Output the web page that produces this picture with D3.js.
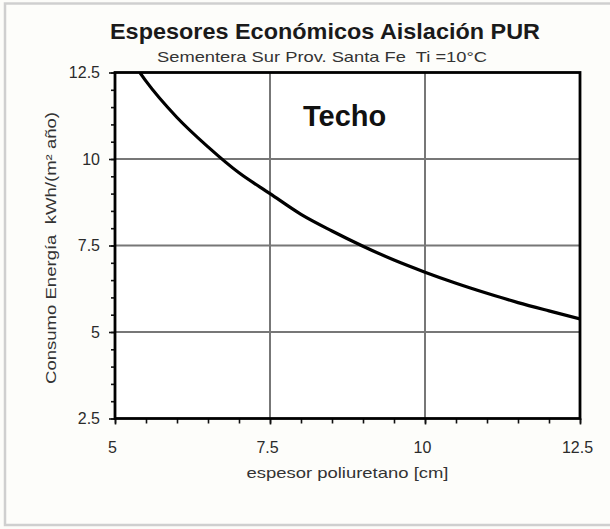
<!DOCTYPE html>
<html>
<head>
<meta charset="utf-8">
<script src="https://cdn.jsdelivr.net/npm/d3@7/dist/d3.min.js"></script>
<style>
  html, body { margin: 0; padding: 0; background: #fcfcf9; }
  svg { display: block; }
  text { font-family: "Liberation Sans", Arial, sans-serif; }
</style>
</head>
<body>
<div id="chart"></div>
<script>
// ---- data ----
const titleText = "Espesores Económicos Aislación PUR";
const subtitleText = "Sementera Sur Prov. Santa Fe  Ti =10°C";
const xLabel = "espesor poliuretano [cm]";
const yLabel = "Consumo Energía  kWh/(m² año)";
const panelLabel = "Techo";
const thickness = [5.4, 5.5, 6, 6.5, 7, 7.5, 8, 8.5, 9, 9.5, 10, 10.5, 11, 11.5, 12, 12.5];
const consumption = [12.5, 12.25, 11.2, 10.35, 9.6, 9.0, 8.4, 7.92, 7.48, 7.08, 6.73, 6.41, 6.12, 5.85, 5.61, 5.38];
const xTicks = [5, 7.5, 10, 12.5];
const yTicks = [2.5, 5, 7.5, 10, 12.5];
const xDomain = [5, 12.5];
const yDomain = [2.5, 12.5];

// ---- layout ----
const W = 610, H = 529;
const plot = { left: 115, right: 580, top: 72.5, bottom: 418.5 };

const svg = d3.select("#chart").append("svg").attr("width", W).attr("height", H);

// outer frame
svg.append("rect").attr("x", 5).attr("y", 3.5).attr("width", 640).attr("height", 521.5)
  .attr("fill", "#fdfdfa").attr("stroke", "#cfcfcf").attr("stroke-width", 2.5);

const x = d3.scaleLinear().domain(xDomain).range([plot.left, plot.right]);
const y = d3.scaleLinear().domain(yDomain).range([plot.bottom, plot.top]);

// plot background
svg.append("rect").attr("x", plot.left).attr("y", plot.top)
  .attr("width", plot.right - plot.left).attr("height", plot.bottom - plot.top)
  .attr("fill", "#ffffff");

// gridlines
const gx = xTicks.filter(d => d > xDomain[0] && d < xDomain[1]);
const gy = yTicks.filter(d => d > yDomain[0] && d < yDomain[1]);
svg.append("g").selectAll("line").data(gx).join("line")
  .attr("x1", d => x(d)).attr("x2", d => x(d))
  .attr("y1", plot.top).attr("y2", plot.bottom)
  .attr("stroke", "#777").attr("stroke-width", 2);
svg.append("g").selectAll("line").data(gy).join("line")
  .attr("y1", d => y(d)).attr("y2", d => y(d))
  .attr("x1", plot.left).attr("x2", plot.right)
  .attr("stroke", "#777").attr("stroke-width", 2);

// axes (major + minor ticks)
const minorX = d3.range(xDomain[0], xDomain[1] + 0.001, 0.5);
const minorY = d3.range(yDomain[0], yDomain[1] + 0.001, 0.5);

const xAxisMinor = d3.axisBottom(x).tickValues(minorX).tickSize(5).tickFormat("");
const yAxisMinor = d3.axisLeft(y).tickValues(minorY).tickSize(4).tickFormat("");
const xAxis = d3.axisBottom(x).tickValues(xTicks).tickSize(6).tickPadding(17).tickFormat(d3.format("~g"));
const yAxis = d3.axisLeft(y).tickValues(yTicks).tickSize(6).tickPadding(9).tickFormat(d3.format("~g"));

function styleAxis(g) {
  g.select(".domain").remove();
  g.selectAll("line").attr("stroke", "#111").attr("stroke-width", 1.6);
  g.selectAll("text").attr("fill", "#2b2b2b").attr("font-size", 16)
    .attr("font-family", '"Liberation Sans", Arial, sans-serif');
}
svg.append("g").attr("transform", `translate(0,${plot.bottom})`).call(xAxisMinor).call(styleAxis);
svg.append("g").attr("transform", `translate(${plot.left},0)`).call(yAxisMinor).call(styleAxis);
const xg = svg.append("g").attr("transform", `translate(0,${plot.bottom})`).call(xAxis).call(styleAxis);
const yg = svg.append("g").attr("transform", `translate(${plot.left},0)`).call(yAxis).call(styleAxis);
xg.selectAll("text").attr("dx", -3);
yg.selectAll("text").attr("dy", "0.34em");

// clip for curve
svg.append("clipPath").attr("id", "clip").append("rect")
  .attr("x", plot.left).attr("y", plot.top)
  .attr("width", plot.right - plot.left).attr("height", plot.bottom - plot.top);

const line = d3.line().x(d => x(d[0])).y(d => y(d[1])).curve(d3.curveMonotoneX);
svg.append("path").datum(thickness.map((t, i) => [t, consumption[i]]))
  .attr("clip-path", "url(#clip)")
  .attr("d", line).attr("fill", "none").attr("stroke", "#000").attr("stroke-width", 3.2);

// plot frame
svg.append("rect").attr("x", plot.left).attr("y", plot.top)
  .attr("width", plot.right - plot.left).attr("height", plot.bottom - plot.top)
  .attr("fill", "none").attr("stroke", "#000").attr("stroke-width", 2.8);

// titles
svg.append("text").attr("x", 325).attr("y", 39).attr("text-anchor", "middle")
  .attr("font-size", 22).attr("font-weight", "bold").attr("fill", "#1a1a1a")
  .attr("textLength", 430).attr("lengthAdjust", "spacingAndGlyphs")
  .text(titleText);
svg.append("text").attr("x", 322).attr("y", 62).attr("text-anchor", "middle")
  .attr("font-size", 15).attr("fill", "#333").style("white-space", "pre")
  .attr("textLength", 330).attr("lengthAdjust", "spacingAndGlyphs")
  .text(subtitleText);

// panel label
svg.append("text").attr("x", 303).attr("y", 126)
  .attr("font-size", 29).attr("font-weight", "bold").attr("fill", "#111")
  .text(panelLabel);

// axis titles
svg.append("text").attr("x", (plot.left + plot.right) / 2).attr("y", 478)
  .attr("text-anchor", "middle").attr("font-size", 15).attr("fill", "#333")
  .attr("textLength", 202).attr("lengthAdjust", "spacingAndGlyphs")
  .text(xLabel);
svg.append("text").attr("transform", `translate(56,248) rotate(-90)`)
  .attr("text-anchor", "middle").attr("font-size", 15).attr("fill", "#333")
  .style("white-space", "pre")
  .attr("textLength", 272).attr("lengthAdjust", "spacingAndGlyphs")
  .text(yLabel);
</script>
</body>
</html>
